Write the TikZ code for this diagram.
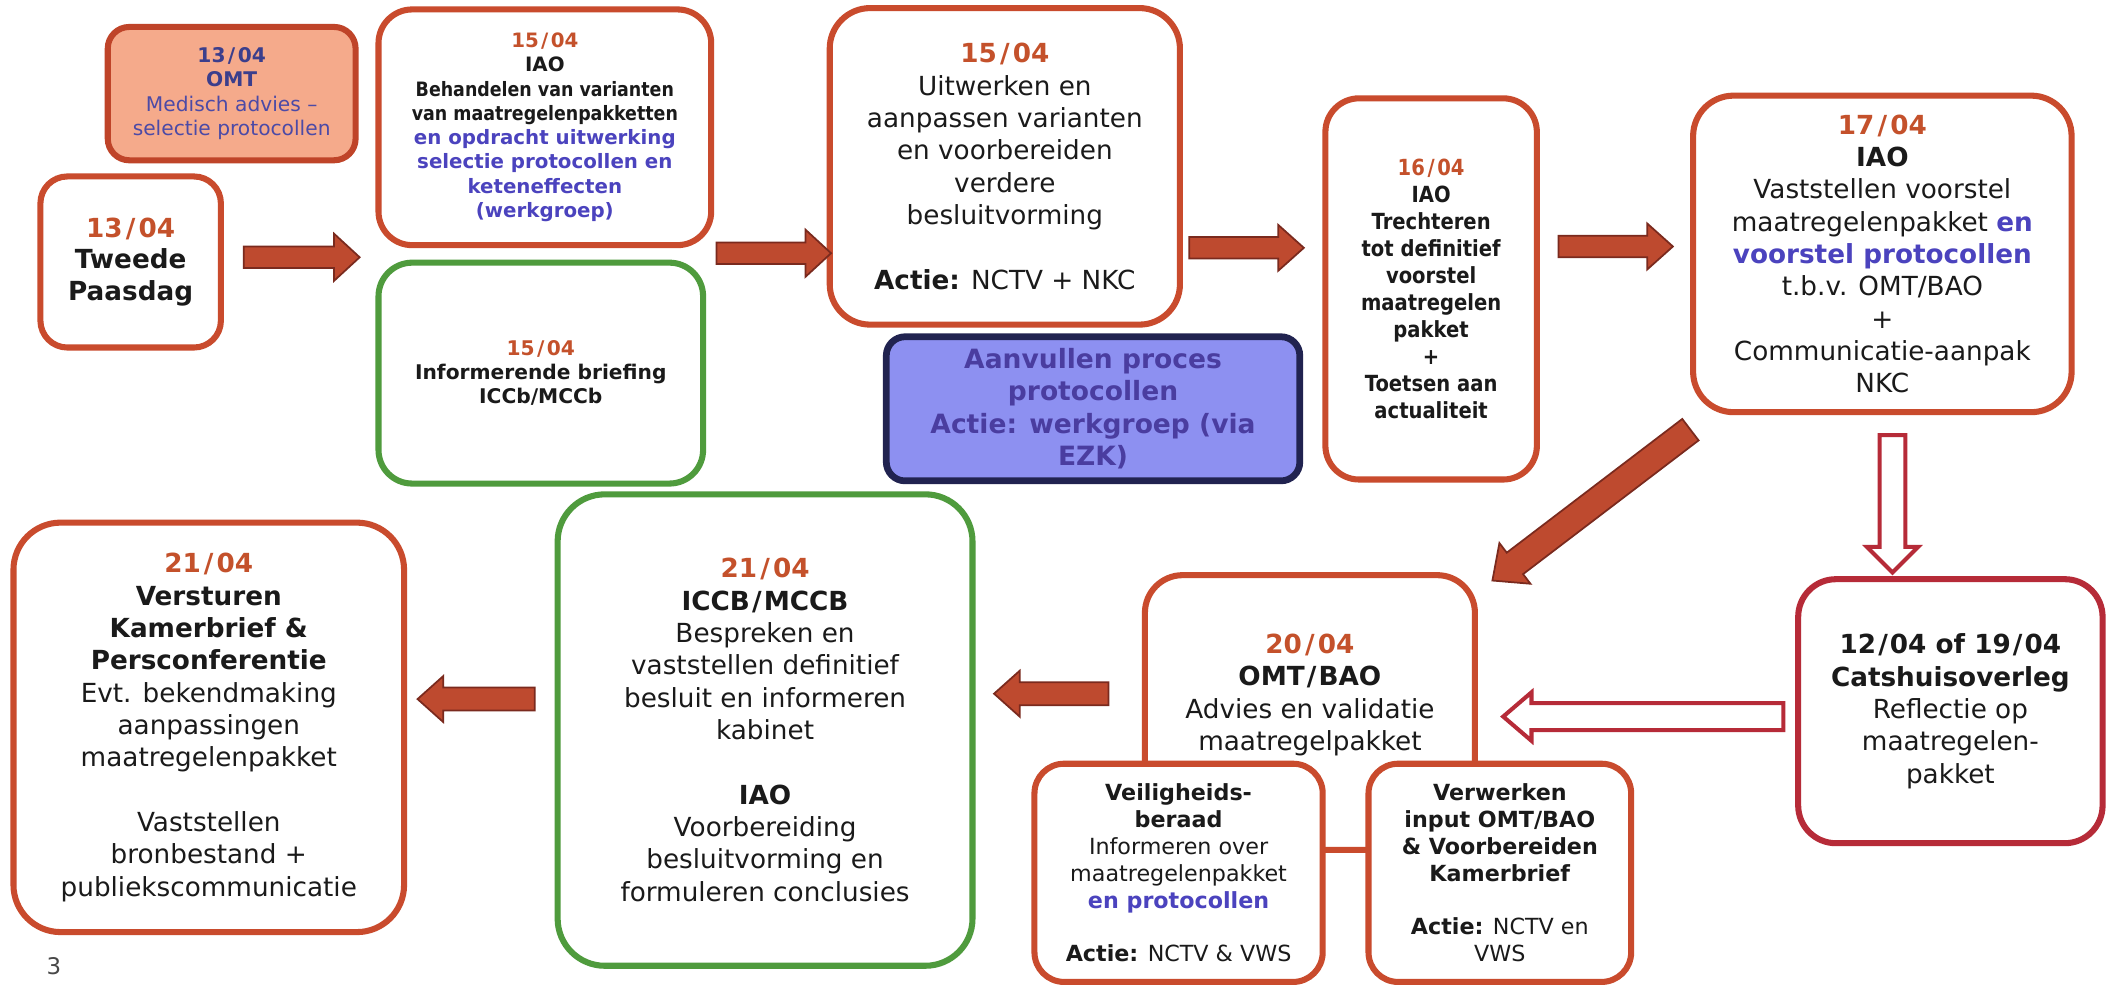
\documentclass[tikz,border=0pt]{standalone}
\usepackage{fontspec}
\setmainfont{DejaVu Sans}
\newfontfamily\nar{DejaVu Sans}[FakeStretch=0.88]
\usetikzlibrary{calc}
\definecolor{boxred}{HTML}{C94B2D}
\definecolor{datec}{HTML}{C4512B}
\definecolor{grn}{HTML}{4F9B3D}
\definecolor{salm}{HTML}{F5AA8B}
\definecolor{salmb}{HTML}{BF4429}
\definecolor{navy}{HTML}{3B3E8C}
\definecolor{indig}{HTML}{4C4AA6}
\definecolor{bluet}{HTML}{4B43BE}
\definecolor{bluef}{HTML}{8D90F1}
\definecolor{blueb}{HTML}{212350}
\definecolor{bluebt}{HTML}{4A3DA0}
\definecolor{arrf}{HTML}{BE4A2F}
\definecolor{arrd}{HTML}{7A2A1E}
\definecolor{crim}{HTML}{B62B38}
\definecolor{txt}{HTML}{1A1A1A}
\newcommand\dte[2]{\textcolor{datec}{\textbf{#1\kern.12em/\kern.12em#2}}}
\newcommand\blockarr[6][]{%
  \coordinate (hb) at ($(#3)!#6!(#2)$);
  \path[#1] ($(#2)!#4!90:(#3)$) -- ($(hb)!#4!90:(#3)$) -- ($(hb)!#5!90:(#3)$) -- (#3)
    -- ($(hb)!#5!-90:(#3)$) -- ($(hb)!#4!-90:(#3)$) -- ($(#2)!#4!-90:(#3)$) -- cycle;}
\tikzset{
  box/.style={draw=boxred, line width=4.5pt, rounded corners=#1, fill=white,
    align=center, inner sep=0pt, text=txt},
  box/.default=25pt,
  big/.style={font=\fontsize{19.5}{24}\selectfont},
  solidarr/.style={fill=arrf, draw=arrd, line width=1.3pt, line join=miter},
  hollowarr/.style={fill=white, draw=crim, line width=3pt, line join=miter},
}
\begin{document}
\begin{tikzpicture}[x=1pt,y=-1pt]
\fill[white] (0,0) rectangle (1568,731);
\useasboundingbox (0,0) rectangle (1568,731);

% top row
\node[box=16pt, draw=salmb, fill=salm, minimum width=184pt, minimum height=99pt,
  font=\fontsize{15}{18}\selectfont] (omt13) at (172,69.5)
  {\textcolor{navy}{\textbf{13\kern.12em/\kern.12em04}}\\
   \textcolor{navy}{\textbf{OMT}}\\
   \textcolor{indig}{Medisch advies –}\\
   \textcolor{indig}{selectie protocollen}};

\node[box=20pt, minimum width=134pt, minimum height=127pt,
  font=\fontsize{19.5}{23.5}\selectfont] (tweede) at (97,194.5)
  {\dte{13}{04}\\ \textbf{Tweede}\\ \textbf{Paasdag}};

\node[box=25pt, minimum width=247pt, minimum height=175pt,
  font=\fontsize{14.7}{18}\selectfont] (iao15) at (404.5,94.5)
  {\dte{15}{04}\\ \textbf{IAO}\\
   {\nar\bfseries Behandelen van varianten}\\
   {\nar\bfseries van maatregelenpakketten}\\
   \textcolor{bluet}{\textbf{en opdracht uitwerking}}\\
   \textcolor{bluet}{\textbf{selectie protocollen en}}\\
   \textcolor{bluet}{\textbf{keteneffecten}}\\
   \textcolor{bluet}{\textbf{(werkgroep)}}};

\node[box=25pt, draw=grn, minimum width=241pt, minimum height=164pt,
  font=\fontsize{15}{18}\selectfont] (brief15) at (401.5,277)
  {\dte{15}{04}\\ \textbf{Informerende briefing}\\ \textbf{ICCb/MCCb}};

\node[box=30pt, minimum width=260pt, minimum height=235pt, big] (uitw) at (746,123.5)
  {\dte{15}{04}\\ Uitwerken en\\ aanpassen varianten\\ en voorbereiden\\ verdere\\
   besluitvorming\\[24pt] \textbf{Actie:} NCTV + NKC};

\node[box=14pt, draw=blueb, line width=5pt, fill=bluef, minimum width=307pt,
  minimum height=107pt, text=bluebt, font=\fontsize{19.7}{24}\selectfont\bfseries]
  (aanv) at (811.5,303.5)
  {Aanvullen proces\\ protocollen\\ Actie: werkgroep (via\\ EZK)};

\node[box=25pt, minimum width=157pt, minimum height=283pt,
  font=\nar\bfseries\fontsize{16.5}{20}\selectfont] (iao16) at (1062.5,214.5)
  {\dte{16}{04}\\ IAO\\ Trechteren\\ tot definitief\\ voorstel\\ maatregelen\\ pakket\\ +\\
   Toetsen aan\\ actualiteit};

\node[box=30pt, minimum width=281pt, minimum height=235pt, big] (iao17) at (1397.5,188.5)
  {\dte{17}{04}\\ \textbf{IAO}\\ Vaststellen voorstel\\
   maatregelenpakket \textcolor{bluet}{\textbf{en}}\\
   \textcolor{bluet}{\textbf{voorstel protocollen}}\\ t.b.v. OMT/BAO\\ +\\
   Communicatie-aanpak\\ NKC};

% bottom row
\node[box=28pt, draw=crim, minimum width=226pt, minimum height=196pt, big] (cats) at (1448,528)
  {\textbf{12\kern.08em/\kern.08em04 of 19\kern.08em/\kern.08em04}\\ \textbf{Catshuisoverleg}\\
   Reflectie op\\ maatregelen-\\ pakket};

\node[box=28pt, minimum width=245pt, minimum height=204pt] (omt20) at (972.5,529) {};
\node[align=center, inner sep=0pt, text=txt, big] (omt20t) at (972.5,516)
  {\dte{20}{04}\\ \textbf{OMT\kern.08em/\kern.08em BAO}\\ Advies en validatie\\ maatregelpakket};

\node[box=22pt, minimum width=214pt, minimum height=162pt,
  font=\fontsize{16.5}{20}\selectfont] (veil) at (875,648)
  {\textbf{Veiligheids-}\\ \textbf{beraad}\\ Informeren over\\ maatregelenpakket\\
   \textcolor{bluet}{\textbf{en protocollen}}\\[19pt] \textbf{Actie:} NCTV \& VWS};

\node[box=22pt, minimum width=195pt, minimum height=162pt,
  font=\fontsize{16.5}{20}\selectfont] (verw) at (1113.5,648)
  {\textbf{Verwerken}\\ \textbf{input OMT/BAO}\\ \textbf{\& Voorbereiden}\\
   \textbf{Kamerbrief}\\[19pt] \textbf{Actie:} NCTV en\\ VWS};

\node[box=35pt, draw=grn, minimum width=308pt, minimum height=350pt, big] (iccb) at (568,542)
  {\dte{21}{04}\\ \textbf{ICCB\kern.08em/\kern.08em MCCB}\\ Bespreken en\\ vaststellen definitief\\
   besluit en informeren\\ kabinet\\[24pt] \textbf{IAO}\\ Voorbereiding\\
   besluitvorming en\\ formuleren conclusies};

\node[box=35pt, minimum width=290pt, minimum height=304pt, big] (verst) at (155,540)
  {\dte{21}{04}\\ \textbf{Versturen}\\ \textbf{Kamerbrief \&}\\ \textbf{Persconferentie}\\
   Evt. bekendmaking\\ aanpassingen\\ maatregelenpakket\\[24pt] Vaststellen\\
   bronbestand +\\ publiekscommunicatie};

\node[text=txt!80, font=\fontsize{17}{20}\selectfont] (pnum) at (40,717) {3};

% arrow end points
\coordinate (a1s) at (181,191);  \coordinate (a1e) at (267,191);
\coordinate (a2s) at (532,188);  \coordinate (a2e) at (617,188);
\coordinate (a3s) at (883,184);  \coordinate (a3e) at (968,184);
\coordinate (a4s) at (1157,183); \coordinate (a4e) at (1242,183);
\coordinate (a5s) at (1255,319); \coordinate (a5e) at (1108,431);
\coordinate (a6s) at (1405,323); \coordinate (a6e) at (1405,425);
\coordinate (a7s) at (1324,532); \coordinate (a7e) at (1116,532);
\coordinate (a8s) at (823,515);  \coordinate (a8e) at (738,515);
\coordinate (a9s) at (397,519);  \coordinate (a9e) at (310,519);

\blockarr[solidarr]{a1s}{a1e}{8pt}{17.5pt}{19pt}
\blockarr[solidarr]{a2s}{a2e}{8pt}{17.5pt}{19pt}
\blockarr[solidarr]{a3s}{a3e}{8pt}{17pt}{19pt}
\blockarr[solidarr]{a4s}{a4e}{8pt}{17pt}{19pt}
\blockarr[solidarr]{a5s}{a5e}{10pt}{19pt}{21pt}
\blockarr[hollowarr]{a6s}{a6e}{9.5pt}{19pt}{19pt}
\blockarr[hollowarr]{a7s}{a7e}{10pt}{18pt}{21pt}
\blockarr[solidarr]{a8s}{a8e}{8.5pt}{17pt}{19pt}
\blockarr[solidarr]{a9s}{a9e}{8.5pt}{17pt}{19pt}
\end{tikzpicture}
\end{document}
